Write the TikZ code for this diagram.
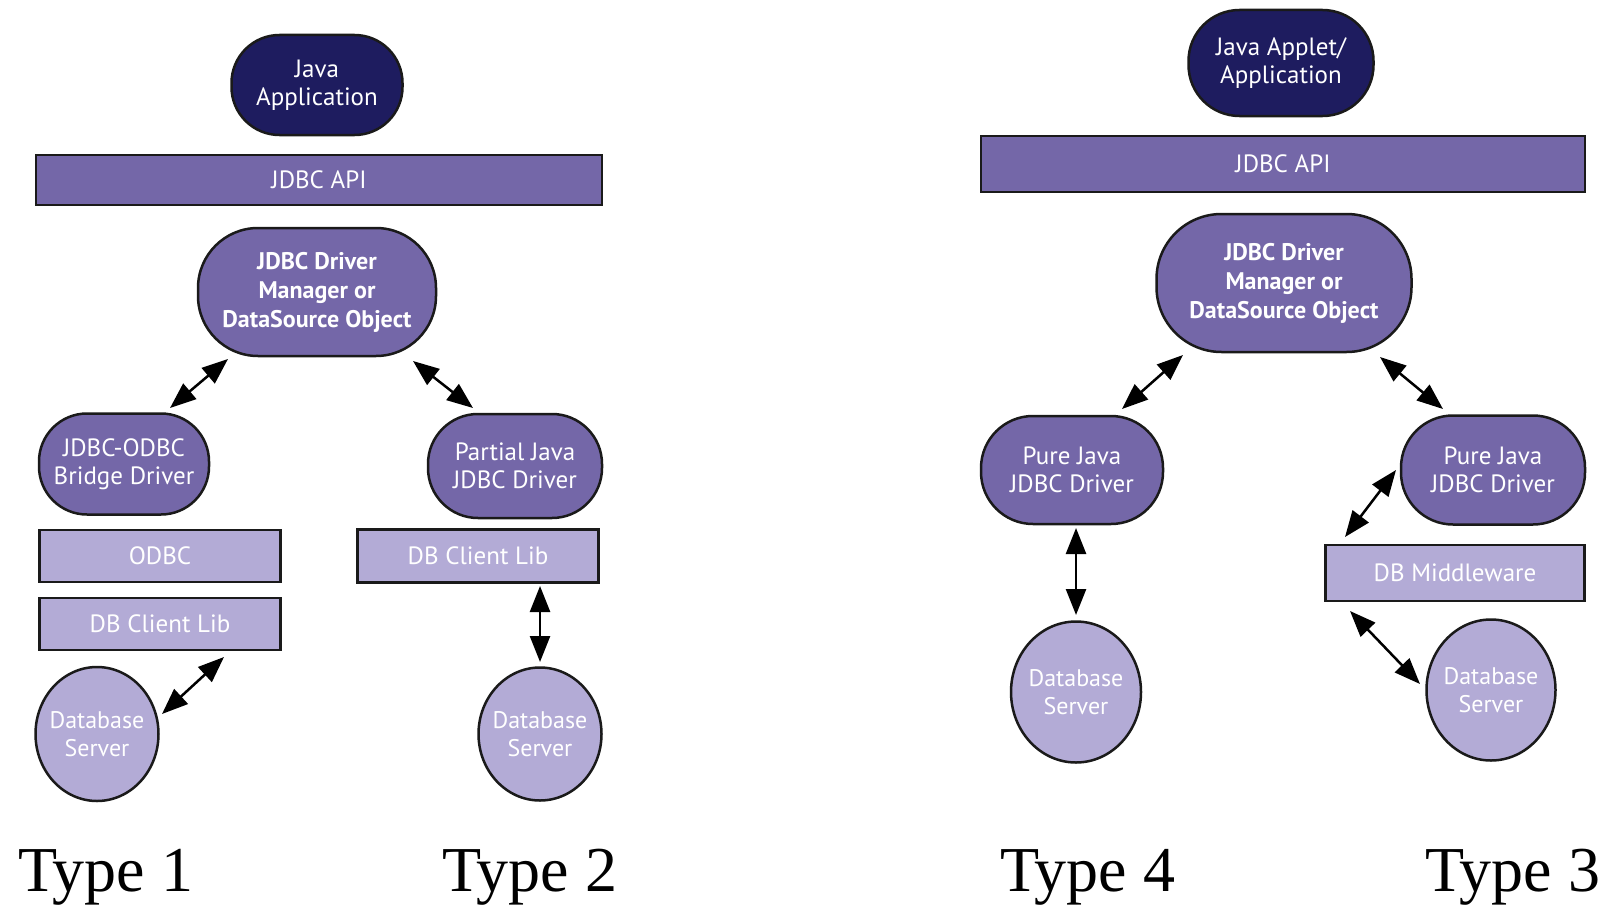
\documentclass[tikz,border=0pt]{standalone}
\usepackage{fontspec}
\setmainfont{Liberation Serif}
\newfontfamily\gill{PT Sans}
\usetikzlibrary{arrows.meta,shapes.geometric}
\definecolor{navy}{HTML}{1E1C5F}
\definecolor{mid}{HTML}{7467A8}
\definecolor{lite}{HTML}{B3ABD6}
\definecolor{edgec}{HTML}{1A1A1A}
\begin{document}
\begin{tikzpicture}[x=1pt,y=-1pt,
  pill/.style={draw=edgec,line width=2.5pt,align=center,text=white,
    font=\gill\fontsize{25}{28}\selectfont,inner sep=0pt},
  mgr/.style={pill,fill=mid,font=\gill\bfseries\fontsize{24}{29}\selectfont},
  bar/.style={draw=edgec,line width=2.5pt,text=white,
    font=\gill\fontsize{25}{28}\selectfont,inner sep=0pt},
  dbs/.style={ellipse,draw=edgec,line width=2.5pt,fill=lite,align=center,text=white,
    font=\gill\fontsize{24}{28}\selectfont,inner xsep=-5pt,inner ysep=0pt},
  dbl/.style={{Triangle[length=26pt,width=20pt]}-{Triangle[length=26pt,width=20pt]},line width=2.5pt},
  typ/.style={anchor=base west,font=\fontsize{64}{70}\selectfont,inner sep=0pt}]
\fill[white] (0,0) rectangle (1608,907);
\useasboundingbox (0,0) rectangle (1608,907);

% ---------- left half ----------
\node[pill,fill=navy,minimum width=171pt,minimum height=100pt,rounded corners=48pt] (app1) at (317,85) {Java\\Application};
\node[bar,fill=mid,minimum width=566pt,minimum height=50pt] (api1) at (319,180) {JDBC API};
\node[mgr,minimum width=238pt,minimum height=128pt,rounded corners=60pt] (dm1) at (317,292) {JDBC Driver\\Manager or\\DataSource Object};
\node[pill,fill=mid,minimum width=170pt,minimum height=101pt,rounded corners=48pt] (bridge) at (124,464) {JDBC-ODBC\\Bridge Driver};
\node[pill,fill=mid,minimum width=174pt,minimum height=104pt,rounded corners=50pt] (partial) at (515,466) {Partial Java\\JDBC Driver};
\node[bar,fill=lite,minimum width=241pt,minimum height=52pt] (odbc) at (160,556) {ODBC};
\node[bar,fill=lite,minimum width=241pt,minimum height=52pt] (cl1) at (160,624) {DB Client Lib};
\node[bar,fill=lite,minimum width=241pt,minimum height=53pt] (cl2) at (478,556) {DB Client Lib};
\node[dbs,minimum width=123pt,minimum height=134pt] (dbs1) at (97,734) {Database\\Server};
\node[dbs,minimum width=123pt,minimum height=133pt] (dbs2) at (540,734) {Database\\Server};

\coordinate (a1s) at (228,359); \coordinate (a1e) at (170,408);
\coordinate (a2s) at (413,361); \coordinate (a2e) at (473,408);
\coordinate (a3s) at (224,657); \coordinate (a3e) at (162,714);
\coordinate (a4s) at (540,586); \coordinate (a4e) at (540,662);
\draw[dbl] (a1s) -- (a1e);
\draw[dbl] (a2s) -- (a2e);
\draw[dbl] (a3s) -- (a3e);
\draw[dbl] (a4s) -- (a4e);

% ---------- right half ----------
\node[pill,fill=navy,minimum width=185pt,minimum height=106pt,rounded corners=51pt] (app2) at (1281,63) {Java Applet/\\Application};
\node[bar,fill=mid,minimum width=604pt,minimum height=56pt] (api2) at (1283,164) {JDBC API};
\node[mgr,minimum width=255pt,minimum height=138pt,rounded corners=65pt] (dm2) at (1284,283) {JDBC Driver\\Manager or\\DataSource Object};
\node[pill,fill=mid,minimum width=182pt,minimum height=108pt,rounded corners=52pt] (pj1) at (1072,470) {Pure Java\\JDBC Driver};
\node[pill,fill=mid,minimum width=184pt,minimum height=109pt,rounded corners=52pt] (pj2) at (1493,470) {Pure Java\\JDBC Driver};
\node[bar,fill=lite,minimum width=259pt,minimum height=56pt] (mw) at (1455,573) {DB Middleware};
\node[dbs,minimum width=130pt,minimum height=141pt] (dbs4) at (1076,692) {Database\\Server};
\node[dbs,minimum width=129pt,minimum height=141pt] (dbs3) at (1491,690) {Database\\Server};

\coordinate (b1s) at (1183,355); \coordinate (b1e) at (1122,409);
\coordinate (b2s) at (1380,357); \coordinate (b2e) at (1443,409);
\coordinate (b3s) at (1076,528); \coordinate (b3e) at (1076,615);
\coordinate (b4s) at (1396,470); \coordinate (b4e) at (1345,537);
\coordinate (b5s) at (1350,611); \coordinate (b5e) at (1420,684);
\draw[dbl] (b1s) -- (b1e);
\draw[dbl] (b2s) -- (b2e);
\draw[dbl] (b3s) -- (b3e);
\draw[dbl] (b4s) -- (b4e);
\draw[dbl] (b5s) -- (b5e);

% ---------- labels ----------
\node[typ] (t1) at (18,891) {Type 1};
\node[typ] (t2) at (442,891) {Type 2};
\node[typ] (t4) at (1000,891) {Type 4};
\node[typ] (t3) at (1425,891) {Type 3};
\end{tikzpicture}
\end{document}
